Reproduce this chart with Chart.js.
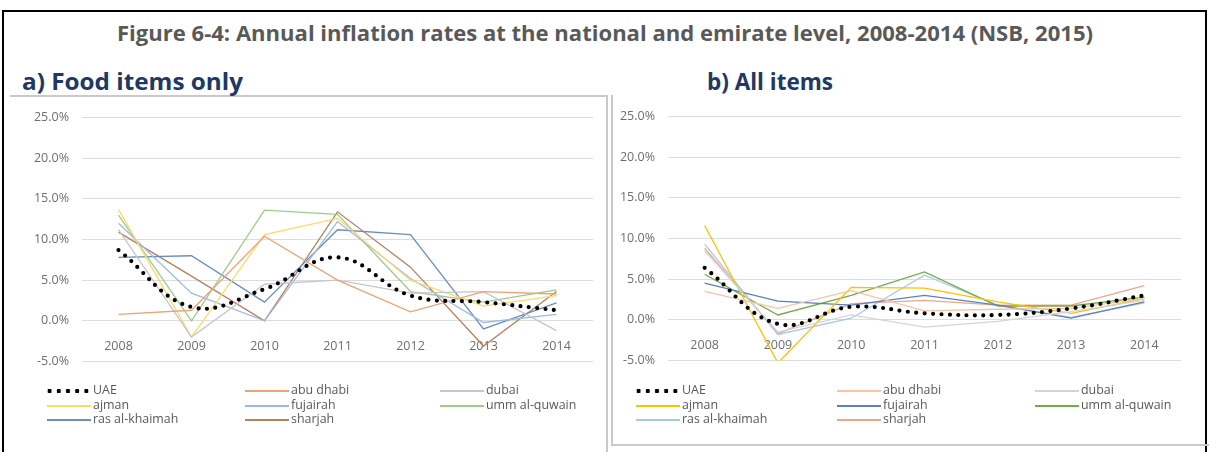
<!DOCTYPE html>
<html>
<head>
<meta charset="utf-8">
<script src="https://cdn.jsdelivr.net/npm/chart.js@4.4.1/dist/chart.umd.min.js"></script>
<style>
html, body { margin: 0; padding: 0; background: #fff; width: 1209px; height: 452px; overflow: hidden; font-family: "Open Sans", sans-serif; }
#frame { position: absolute; left: 2px; top: 10px; width: 1201px; height: 470px; border: 2px solid #000; }
#panelA { position: absolute; left: 10px; top: 95px; width: 596px; height: 400px; border-top: 2px solid #C9C9C9; border-right: 2px solid #C9C9C9; }
#panelB { position: absolute; left: 611px; top: 95px; width: 600px; height: 349px; border-left: 2px solid #C9C9C9; border-bottom: 2px solid #C9C9C9; }
.txt { position: absolute; white-space: nowrap; transform-origin: 0 0; }
#title { top: 19px; font-weight: bold; font-size: 21px; color: #595959; }
.sub { top: 65px; font-weight: bold; font-size: 23px; color: #203864; }
canvas { position: absolute; }
.lg { position: absolute; font-size: 13.5px; color: #595959; line-height: 15px; white-space: nowrap; transform-origin: 0 0; }
.mk { position: absolute; height: 2px; width: 44px; }
.dots { position: absolute; width: 46px; height: 6px; background: radial-gradient(circle, #000 2px, transparent 2.4px) 0 0 / 9.2px 6px repeat-x; }
</style>
</head>
<body>
<div id="frame"></div>
<div id="panelA"></div>
<div id="panelB"></div>
<div id="title" class="txt">Figure 6-4: Annual inflation rates at the national and emirate level, 2008-2014 (NSB, 2015)</div>
<div id="subA" class="txt sub" style="left:22px">a) Food items only</div>
<div id="subB" class="txt sub" style="left:707px">b) All items</div>
<canvas id="food" width="597" height="285" style="left:10px;top:97px;width:597px;height:285px"></canvas>
<canvas id="all" width="580" height="285" style="left:614px;top:96px;width:580px;height:285px"></canvas>
<div id="legends"></div>
<script>
// ---- data ----
const years = ["2008", "2009", "2010", "2011", "2012", "2013", "2014"];
const seriesNames = ["UAE", "abu dhabi", "dubai", "ajman", "fujairah", "umm al-quwain", "ras al-khaimah", "sharjah"];

// a) food items only (%)
const foodUAE          = [8.7, 1.7, 3.9, 7.8, 3.1, 2.3, 1.3];
const foodAbuDhabi     = [0.8, 1.3, 10.4, 5.0, 1.1, 3.6, 3.3];
const foodDubai        = [11.2, -2.0, 4.5, 5.0, 3.4, 3.6, -1.2];
const foodAjman        = [13.7, -2.0, 10.6, 12.6, 5.0, 1.8, 3.1];
const foodFujairah     = [12.0, 3.4, 0.0, 12.2, 5.2, -0.2, 0.8];
const foodUmmAlQuwain  = [13.0, 0.0, 13.6, 13.1, 3.6, 2.3, 3.8];
const foodRasAlKhaimah = [7.8, 8.0, 2.3, 11.2, 10.6, -1.0, 2.2];
const foodSharjah      = [10.9, 5.5, 0.0, 13.4, 6.6, -3.1, 3.6];

// b) all items (%)
const allUAE          = [6.4, -0.5, 1.6, 0.8, 0.6, 1.4, 3.0];
const allAbuDhabi     = [3.5, 1.4, 3.6, 1.1, 1.3, 1.4, 2.6];
const allDubai        = [8.5, -1.5, 0.6, -0.9, -0.2, 1.0, 2.4];
const allAjman        = [11.6, -5.3, 4.0, 3.9, 2.2, 0.8, 2.6];
const allFujairah     = [4.5, 2.3, 1.8, 3.0, 1.8, 0.2, 2.2];
const allUmmAlQuwain  = [5.6, 0.6, 3.0, 5.9, 1.7, 1.7, 2.8];
const allRasAlKhaimah = [9.3, -1.8, 0.2, 5.5, 1.8, 0.3, 2.1];
const allSharjah      = [8.8, -1.7, 2.0, 2.4, 1.8, 1.8, 4.2];

const yMin = -5, yMax = 25, yStep = 5;

const foodColors = ["#000000", "#EFA275", "#C6C6C6", "#FFD966", "#9DB9E8", "#9FCB8A", "#6A8FBE", "#B5825F"];
const allColors  = ["#000000", "#F8C4A4", "#D4D4D4", "#FFC000", "#5B7FC8", "#70AD47", "#A8C8E8", "#EBA88C"];

// ---- titles: squeeze to the widths in the figure ----
function fitWidth(el, target) {
    const w = el.getBoundingClientRect().width;
    el.style.transform = "scaleX(" + (target / w) + ")";
}
const title = document.getElementById("title");
title.style.left = "117px";
fitWidth(title, 976);
fitWidth(document.getElementById("subA"), 221);
fitWidth(document.getElementById("subB"), 126);

// ---- charts ----
function buildDatasets(seriesData, colors) {
    return seriesData.map((values, i) => {
        if (i === 0) {
            return {
                label: seriesNames[i],
                data: values,
                borderColor: "#000",
                borderWidth: 4.2,
                borderDash: [0, 8.4],
                borderCapStyle: "round",
                tension: 0.4,
                pointRadius: 0,
                fill: false
            };
        }
        return {
            label: seriesNames[i],
            data: values,
            borderColor: colors[i],
            borderWidth: 1.3,
            tension: 0,
            pointRadius: 0,
            fill: false
        };
    });
}

function buildOptions(axisWidth, pad) {
    return {
        responsive: false,
        animation: false,
        layout: { padding: pad },
        plugins: { legend: { display: false }, tooltip: { enabled: false } },
        scales: {
            x: {
                position: { y: 0 },
                offset: true,
                grid: { display: false },
                border: { display: false },
                ticks: {
                    padding: 10,
                    color: "#6E6E6E",
                    font: { family: "Open Sans", size: 12.5 },
                    maxRotation: 0
                }
            },
            y: {
                min: yMin,
                max: yMax,
                afterFit: scale => { scale.width = axisWidth; },
                grid: { color: "#DCDCDC", lineWidth: 1, drawTicks: false },
                border: { display: false },
                ticks: {
                    stepSize: yStep,
                    padding: 13,
                    color: "#6E6E6E",
                    font: { family: "Open Sans", size: 12.5 },
                    callback: v => v.toFixed(1) + "%"
                }
            }
        }
    };
}

new Chart(document.getElementById("food"), {
    type: "line",
    data: {
        labels: years,
        datasets: buildDatasets(
            [foodUAE, foodAbuDhabi, foodDubai, foodAjman, foodFujairah, foodUmmAlQuwain, foodRasAlKhaimah, foodSharjah],
            foodColors)
    },
    options: buildOptions(72, { top: 18, right: 14, bottom: 15, left: 0 })
});

new Chart(document.getElementById("all"), {
    type: "line",
    data: {
        labels: years,
        datasets: buildDatasets(
            [allUAE, allAbuDhabi, allDubai, allAjman, allFujairah, allUmmAlQuwain, allRasAlKhaimah, allSharjah],
            allColors)
    },
    options: buildOptions(54, { top: 18, right: 13, bottom: 16, left: 0 })
});

// ---- legends (3 columns, 3 rows) ----
function buildLegend(colX, colors) {
    const holder = document.getElementById("legends");
    const rowY = [391, 406, 420];
    seriesNames.forEach((name, i) => {
        const x = colX[i % 3], y = rowY[Math.floor(i / 3)];
        const mk = document.createElement("div");
        if (i === 0) {
            mk.className = "dots";
            mk.style.left = x + "px";
            mk.style.top = (y - 3) + "px";
        } else {
            mk.className = "mk";
            mk.style.left = (x + 2) + "px";
            mk.style.top = (y - 1) + "px";
            mk.style.background = colors[i];
        }
        holder.appendChild(mk);
        const t = document.createElement("div");
        t.className = "lg";
        t.textContent = name;
        t.style.left = (x + 48) + "px";
        t.style.top = (y - 9) + "px";
        t.style.transform = "scaleX(0.92)";
        holder.appendChild(t);
    });
}
buildLegend([45, 243, 438], foodColors);
buildLegend([634, 835, 1033], allColors);
</script>
</body>
</html>
